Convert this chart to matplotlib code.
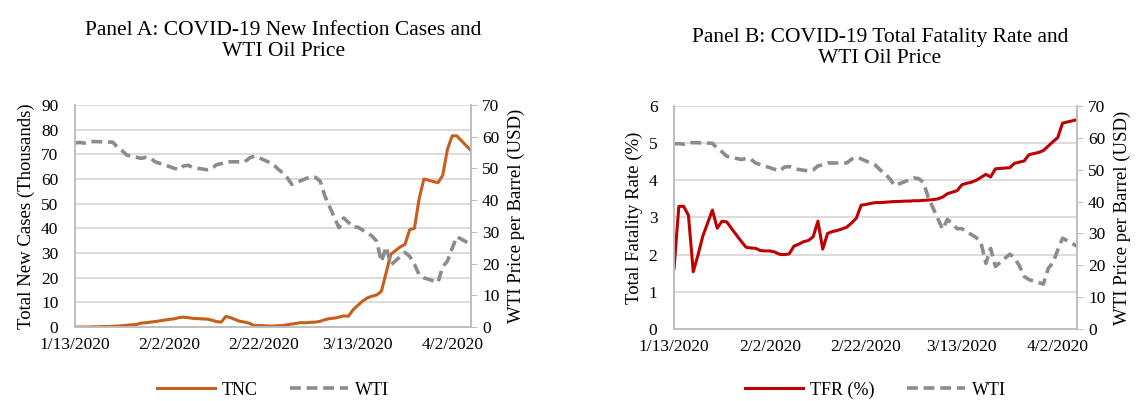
import numpy as np
import pandas as pd
import matplotlib
matplotlib.use("Agg")
import matplotlib.pyplot as plt
import matplotlib.dates as mdates

plt.rcParams['font.family'] = ['Liberation Serif', 'DejaVu Serif']

# daily series, 1/13/2020 - 4/6/2020
days = pd.date_range("2020-01-13", "2020-04-06", freq="D")

# total new cases (thousands)
tnc = [0.0, 0.0, 0.0, 0.0, 0.1, 0.1, 0.2, 0.2, 0.3, 0.4,
       0.5, 0.7, 0.9, 1.0, 1.6, 1.7, 2.0, 2.2, 2.5, 2.8,
       3.1, 3.3, 3.8, 4.0, 3.8, 3.5, 3.4, 3.3, 3.2, 2.8,
       2.2, 2.0, 4.3, 3.8, 3.0, 2.3, 2.0, 1.5, 0.6, 0.6,
       0.5, 0.4, 0.4, 0.5, 0.6, 0.9, 1.2, 1.5, 1.8, 1.7,
       1.9, 2.0, 2.3, 3.0, 3.4, 3.6, 4.0, 4.5, 4.4, 7.0,
       8.8, 10.5, 11.8, 12.5, 13.0, 14.5, 22.0, 29.5, 31.0, 32.5,
       33.5, 39.5, 40.0, 52.0, 60.0, 59.5, 59.0, 58.5, 61.5, 72.0,
       77.5, 77.5, 75.5, 73.5, 71.5]

# total fatality rate (%)
tfr = [1.63, 3.30, 3.30, 3.06, 1.54, 1.99, 2.50, 2.85, 3.20, 2.71,
       2.90, 2.88, 2.70, 2.53, 2.36, 2.20, 2.18, 2.17, 2.11, 2.10,
       2.10, 2.07, 2.01, 2.00, 2.02, 2.23, 2.28, 2.35, 2.38, 2.48,
       2.90, 2.15, 2.57, 2.62, 2.65, 2.69, 2.74, 2.85, 2.98, 3.33,
       3.35, 3.38, 3.40, 3.40, 3.41, 3.42, 3.43, 3.43, 3.44, 3.44,
       3.45, 3.45, 3.46, 3.47, 3.48, 3.50, 3.55, 3.64, 3.68, 3.72,
       3.88, 3.92, 3.95, 4.00, 4.08, 4.16, 4.09, 4.31, 4.32, 4.33,
       4.34, 4.46, 4.49, 4.52, 4.69, 4.72, 4.75, 4.80, 4.92, 5.04,
       5.15, 5.54, 5.57, 5.60, 5.63]

# WTI price per barrel (USD), trading days
wti_dates = pd.to_datetime([
    "2020-01-13", "2020-01-14", "2020-01-15", "2020-01-16", "2020-01-17",
    "2020-01-21", "2020-01-22", "2020-01-23", "2020-01-24",
    "2020-01-27", "2020-01-28", "2020-01-29", "2020-01-30", "2020-01-31",
    "2020-02-03", "2020-02-04", "2020-02-05", "2020-02-06", "2020-02-07",
    "2020-02-10", "2020-02-11", "2020-02-12", "2020-02-13", "2020-02-14",
    "2020-02-18", "2020-02-19", "2020-02-20", "2020-02-21",
    "2020-02-24", "2020-02-25", "2020-02-26", "2020-02-27", "2020-02-28",
    "2020-03-02", "2020-03-03", "2020-03-04", "2020-03-05", "2020-03-06",
    "2020-03-09", "2020-03-10", "2020-03-11", "2020-03-12", "2020-03-13",
    "2020-03-16", "2020-03-17", "2020-03-18", "2020-03-19", "2020-03-20",
    "2020-03-23", "2020-03-24", "2020-03-25", "2020-03-26", "2020-03-27",
    "2020-03-30", "2020-03-31", "2020-04-01", "2020-04-02", "2020-04-03",
    "2020-04-06"])
wti = [58.1, 58.2, 58.0, 58.5, 58.5,
       58.3, 56.7, 55.6, 54.2,
       53.2, 53.5, 53.3, 52.1, 51.6,
       50.1, 49.6, 50.8, 51.0, 50.3,
       49.6, 49.9, 51.2, 51.5, 52.1,
       52.1, 53.3, 53.9, 53.4,
       51.4, 49.9, 48.7, 47.1, 45.0,
       46.8, 47.4, 47.2, 46.0, 41.3,
       31.3, 34.4, 33.0, 31.5, 31.5,
       28.7, 27.0, 20.6, 25.3, 19.6,
       23.5, 22.3, 19.8, 16.5, 15.5,
       14.1, 19.0, 20.8, 24.8, 28.5,
       26.0]

tick_dates = pd.to_datetime(["2020-01-13", "2020-02-02", "2020-02-22",
                             "2020-03-13", "2020-04-02"])

grid_c = '#D9D9D9'
spine_c = '#BFBFBF'
wti_c = '#8C8C8C'


def fmt_date(v, pos):
    d = mdates.num2date(v)
    return "%d/%d/%d" % (d.month, d.day, d.year)


def panel(rect, title, y, ycol, ylabel, ymax, ystep, label, title_x, title_y):
    ax = fig.add_axes(rect)
    ax.plot(days, y, color=ycol, lw=2.2, label=label, zorder=3)
    ax.set_ylim(0, ymax)
    ax.set_yticks(np.arange(0, ymax + ystep / 2, ystep))
    ax.set_xlim(days[0], days[-1])
    ax.set_xticks(tick_dates)
    ax.xaxis.set_major_formatter(matplotlib.ticker.FuncFormatter(fmt_date))
    ax.grid(axis='y', color=grid_c, lw=1.3)
    ax.set_axisbelow(True)
    ax.tick_params(axis='both', length=0, labelsize=12.5)
    ax.tick_params(axis='y', pad=12)
    ax.tick_params(axis='x', pad=7)
    ax.set_ylabel(ylabel, fontsize=13.5, labelpad=4)
    ax.spines['top'].set_visible(False)
    for s in ['left', 'bottom', 'right']:
        ax.spines[s].set_color(spine_c)
        ax.spines[s].set_linewidth(1.3)

    ax2 = ax.twinx()
    ax2.plot(wti_dates, wti, color=wti_c, lw=2.6, ls=(0, (3, 1.6)),
             label='WTI', zorder=2)
    ax2.set_ylim(0, 70)
    ax2.set_yticks(np.arange(0, 71, 10))
    ax2.tick_params(axis='y', length=4, color=spine_c, labelsize=12.5, pad=4)
    ax2.set_ylabel('WTI Price per Barrel (USD)', fontsize=13.5, labelpad=6)
    ax2.spines['top'].set_visible(False)
    for s in ['left', 'bottom', 'right']:
        ax2.spines[s].set_color(spine_c)
        ax2.spines[s].set_linewidth(1.3)

    fig.text(title_x, title_y, title, ha='center', va='top', fontsize=15.5,
             linespacing=1.15)

    cx = rect[0] + rect[2] / 2
    h1, l1 = ax.get_legend_handles_labels()
    h2, l2 = ax2.get_legend_handles_labels()
    fig.legend(h1 + h2, l1 + l2, loc='center', ncol=2, frameon=False,
               bbox_to_anchor=(cx, 0.027), fontsize=13, handlelength=3.2,
               columnspacing=1.8, handletextpad=0.4)
    return ax


fig = plt.figure(figsize=(11.44, 4.01), dpi=100)

panel([0.0656, 0.1845, 0.3461, 0.5535],
      'Panel A: COVID-19 New Infection Cases and\nWTI Oil Price',
      tnc, '#C65F1E', 'Total New Cases (Thousands)', 90, 10, 'TNC',
      0.2475, 0.948)
panel([0.5892, 0.1796, 0.3522, 0.5561],
      'Panel B: COVID-19 Total Fatality Rate and\nWTI Oil Price',
      tfr, '#C00000', 'Total Fatality Rate (%)', 6, 1, 'TFR (%)',
      0.769, 0.930)

fig.savefig('out.png', dpi=100)
